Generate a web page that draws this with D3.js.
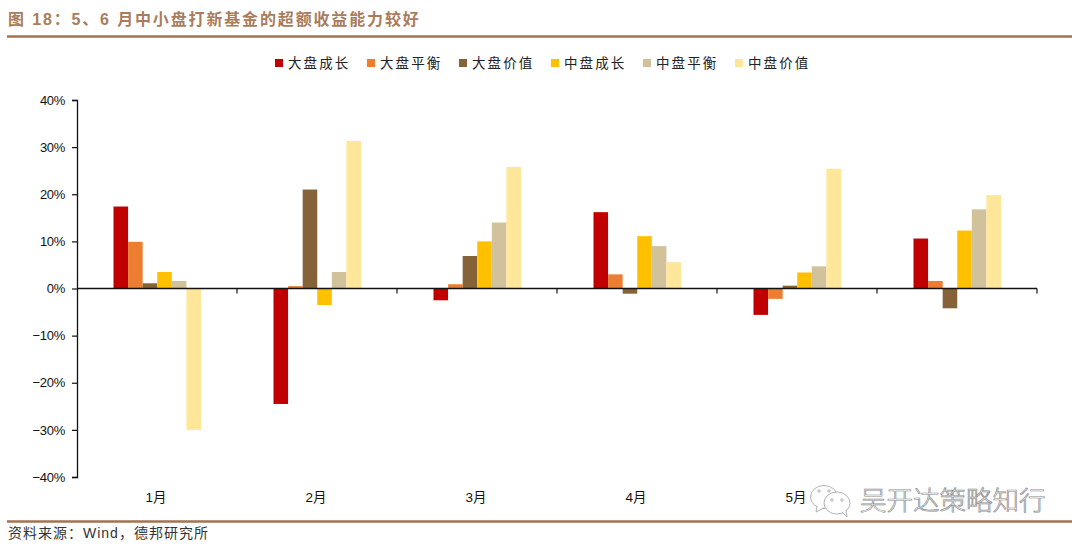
<!doctype html>
<html lang="en">
<head>
<meta charset="utf-8">
<title>图 18</title>
<script src="https://d3js.org/d3.v7.min.js"></script>
<style>
  html, body { margin: 0; padding: 0; background: #fff; }
  svg { display: block; }
  text { font-family: "Liberation Sans", "Noto Sans CJK SC", sans-serif; }
</style>
</head>
<body>
<div class="chart-container"></div>
<script>
  const months = ['1月', '2月', '3月', '4月', '5月', '6月'];
  const seriesNames = ['大盘成长', '大盘平衡', '大盘价值', '中盘成长', '中盘平衡', '中盘价值'];
  const seriesColours = ['#C00000', '#ED7D31', '#866239', '#FFC000', '#D1C29C', '#FFE699'];
  const largeGrowth = [17.4, -24.5, -2.5, 16.2, -5.6, 10.6];
  const largeBalanced = [9.9, 0.5, 0.9, 3.0, -2.2, 1.6];
  const largeValue = [1.1, 21.0, 6.9, -1.1, 0.6, -4.2];
  const midGrowth = [3.5, -3.5, 10.0, 11.1, 3.4, 12.3];
  const midBalanced = [1.6, 3.5, 14.0, 9.0, 4.7, 16.8];
  const midValue = [-30.0, 31.3, 25.8, 5.6, 25.4, 19.8];
  const seriesValues = [largeGrowth, largeBalanced, largeValue, midGrowth, midBalanced, midValue];
  const yTicks = [40, 30, 20, 10, 0, -10, -20, -30, -40];

  const width = 1080;
  const height = 549;
  const ruleColour = '#A5724D';

  const svg = d3.select('.chart-container').append('svg')
    .attr('width', width)
    .attr('height', height);

  // header and footer
  svg.append('text')
    .attr('x', 8)
    .attr('y', 25)
    .attr('fill', '#A97C5C')
    .attr('font-size', 16)
    .attr('font-weight', 700)
    .attr('letter-spacing', 1.85)
    .text('图 18：5、6 月中小盘打新基金的超额收益能力较好');

  svg.append('line')
    .attr('x1', 7).attr('x2', 1072).attr('y1', 36.5).attr('y2', 36.5)
    .attr('stroke', ruleColour).attr('stroke-width', 2.5);

  svg.append('line')
    .attr('x1', 7).attr('x2', 1072).attr('y1', 521.5).attr('y2', 521.5)
    .attr('stroke', ruleColour).attr('stroke-width', 2.5);

  svg.append('text')
    .attr('x', 8)
    .attr('y', 538)
    .attr('fill', '#333')
    .attr('font-size', 14)
    .attr('letter-spacing', 1)
    .text('资料来源：Wind，德邦研究所');

  // scales
  const x = d3.scaleBand()
    .domain(months)
    .range([77, 1037]);

  const xInner = d3.scaleBand()
    .domain(seriesNames)
    .range([36.5, 124]);

  const y = d3.scaleLinear()
    .domain([-40, 40])
    .range([477, 100]);

  // bars
  const groups = svg.selectAll('g.series')
    .data(seriesNames)
    .enter()
    .append('g')
    .attr('class', 'series')
    .attr('fill', (d, i) => seriesColours[i]);

  groups.selectAll('rect')
    .data((d, i) => seriesValues[i].map((value, m) => ({ name: d, month: months[m], value })))
    .enter()
    .append('rect')
    .attr('x', d => x(d.month) + xInner(d.name))
    .attr('width', xInner.bandwidth())
    .attr('y', d => Math.min(y(d.value), y(0)))
    .attr('height', d => Math.abs(y(d.value) - y(0)));

  // axes
  const yAxis = d3.axisLeft(y)
    .tickValues(yTicks)
    .tickSize(5)
    .tickPadding(7)
    .tickFormat(d => (d < 0 ? '−' : '') + Math.abs(d) + '%');

  const yG = svg.append('g')
    .attr('transform', `translate(${x.range()[0]},0)`)
    .call(yAxis);
  yG.select('.domain').attr('stroke', '#111').attr('stroke-width', 1.3);
  yG.selectAll('.tick line').attr('stroke', '#111').attr('stroke-width', 1.2);
  yG.selectAll('text')
    .attr('font-family', '"Liberation Sans", sans-serif')
    .attr('font-size', 13)
    .attr('letter-spacing', -0.3)
    .attr('fill', '#111');

  const xBase = svg.append('g').attr('transform', `translate(0,${y(0)})`);
  xBase.append('line')
    .attr('x1', x.range()[0]).attr('x2', x.range()[1])
    .attr('stroke', '#111').attr('stroke-width', 1.3);
  xBase.selectAll('line.sep')
    .data(months)
    .enter()
    .append('line')
    .attr('class', 'sep')
    .attr('x1', d => x(d) + x.bandwidth())
    .attr('x2', d => x(d) + x.bandwidth())
    .attr('y1', 0)
    .attr('y2', 5)
    .attr('stroke', '#111')
    .attr('stroke-width', 1.2);

  svg.selectAll('text.month')
    .data(months)
    .enter()
    .append('text')
    .attr('class', 'month')
    .attr('x', d => x(d) + x.bandwidth() / 2 - 1)
    .attr('y', 502)
    .attr('text-anchor', 'middle')
    .attr('font-size', 13.5)
    .attr('fill', '#111')
    .text(d => d);

  // legend
  const legendX = d3.scalePoint()
    .domain(seriesNames)
    .range([275, 735]);

  const legend = svg.selectAll('g.legend')
    .data(seriesNames)
    .enter()
    .append('g')
    .attr('class', 'legend')
    .attr('transform', d => `translate(${legendX(d)},63)`);

  legend.append('rect')
    .attr('x', 0)
    .attr('y', -4)
    .attr('width', 8)
    .attr('height', 8)
    .attr('fill', (d, i) => seriesColours[i]);

  legend.append('text')
    .attr('x', 13)
    .attr('y', 5)
    .attr('font-size', 13.5)
    .attr('letter-spacing', 2.1)
    .attr('fill', '#222')
    .text(d => d);

  // watermark, it sits over the last month label as in the source
  svg.append('rect')
    .attr('x', 858).attr('y', 486).attr('width', 190).attr('height', 30)
    .attr('fill', '#fff').attr('opacity', 0.88);

  const mark = svg.append('g').attr('fill', '#fff').attr('stroke', '#a0a0a0').attr('stroke-width', 0.8);
  mark.append('ellipse').attr('cx', 824).attr('cy', 497).attr('rx', 13.5).attr('ry', 11.5);
  mark.append('path').attr('d', 'M817 506 l-1 6 l8 -4');
  mark.append('ellipse').attr('cx', 837).attr('cy', 503).attr('rx', 13).attr('ry', 11);
  mark.append('path').attr('d', 'M842 512 l5 5 l-1 -7');
  mark.selectAll('circle.eye')
    .data([[819, 491], [829, 491], [832, 500], [842, 500]])
    .enter()
    .append('circle')
    .attr('class', 'eye')
    .attr('cx', d => d[0])
    .attr('cy', d => d[1])
    .attr('r', 1.2);

  svg.append('text')
    .attr('x', 860)
    .attr('y', 510)
    .attr('font-family', '"Noto Sans CJK SC", sans-serif')
    .attr('font-size', 26.5)
    .attr('font-weight', 300)
    .attr('fill', '#fff')
    .attr('stroke', '#8a8a8a')
    .attr('stroke-width', 0.7)
    .text('吴开达策略知行');
</script>
</body>
</html>
